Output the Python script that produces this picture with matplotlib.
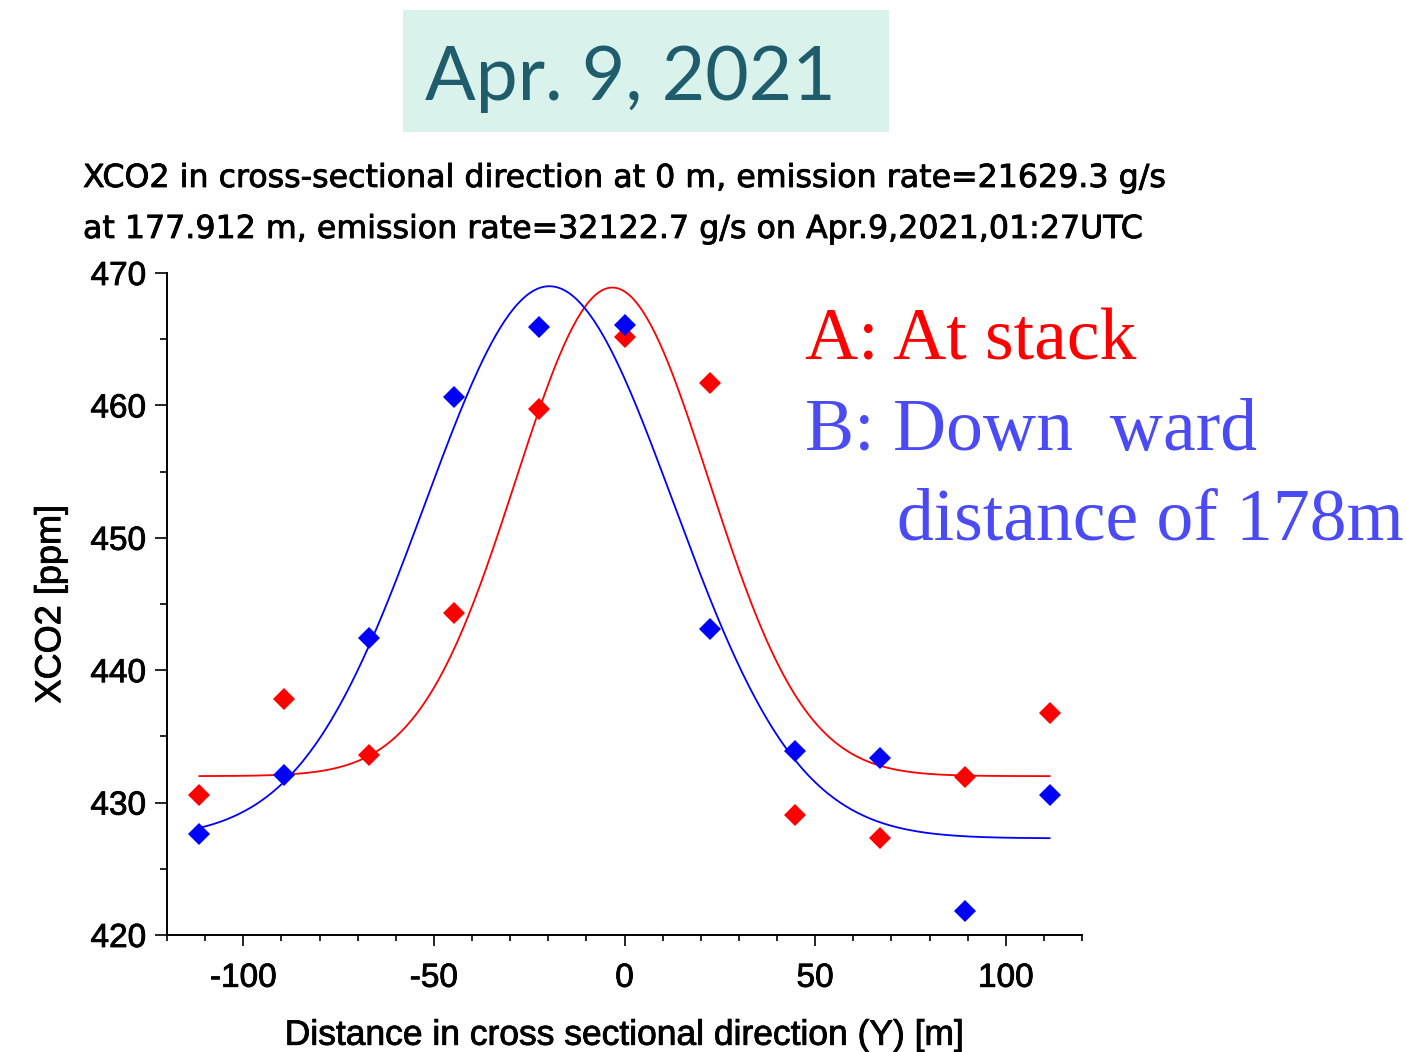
import numpy as np
import matplotlib
matplotlib.use("Agg")
import matplotlib.pyplot as plt
import matplotlib.patheffects as pe
from matplotlib.ticker import MultipleLocator
from matplotlib.patches import Rectangle

plt.rcParams["axes.unicode_minus"] = False

# ---- data ----
y_pos = [-111.5, -89.2, -66.9, -44.6, -22.3, 0.0, 22.3, 44.6, 66.9, 89.2, 111.5]
xco2_stack = [430.6, 437.8, 433.6, 444.3, 459.7, 465.2, 461.7, 429.1, 427.3, 431.9, 436.8]
xco2_down = [427.6, 432.1, 442.4, 460.6, 465.9, 466.1, 443.1, 433.9, 433.4, 421.8, 430.6]

# Gaussian fit parameters: baseline, amplitude, centre, sigma
fit_stack = [432.0, 36.9, -3.2, 25.3]
fit_down = [427.3, 41.7, -19.7, 32.6]

title_lines = ["XCO2 in cross-sectional direction at 0 m, emission rate=21629.3 g/s",
               "at 177.912 m, emission rate=32122.7 g/s on Apr.9,2021,01:27UTC"]
date_text = "Apr. 9, 2021"

W, H = 1406, 1052
fig = plt.figure(figsize=(W / 100, H / 100), dpi=100)

def fx(px):
    return px / W

def fy(py):
    return 1 - py / H

heavy = [pe.withStroke(linewidth=0.6, foreground="black")]

ax = fig.add_axes([fx(167), fy(935), fx(1082) - fx(167), fy(273) - fy(935)])

xs = np.linspace(min(y_pos), max(y_pos), 400)

def gauss(p, x):
    b, a, c, s = p
    return b + a * np.exp(-(x - c) ** 2 / (2 * s ** 2))

ax.plot(xs, gauss(fit_stack, xs), color="#ff0000", lw=1.3, zorder=2)
ax.plot(xs, gauss(fit_down, xs), color="#0000ff", lw=1.3, zorder=2)
ax.plot(y_pos, xco2_stack, "D", color="#ff0000", ms=11, mew=0, zorder=3)
ax.plot(y_pos, xco2_down, "D", color="#0000ff", ms=11, mew=0, zorder=3)

ax.set_xlim(-120, 120)
ax.set_ylim(420, 470)
ax.xaxis.set_major_locator(MultipleLocator(50))
ax.xaxis.set_minor_locator(MultipleLocator(10))
ax.yaxis.set_major_locator(MultipleLocator(10))
ax.yaxis.set_minor_locator(MultipleLocator(5))
for s in ["top", "right"]:
    ax.spines[s].set_visible(False)
for s in ["left", "bottom"]:
    ax.spines[s].set_linewidth(1.4)
ax.tick_params(axis="y", which="major", length=9, width=1.2, pad=6, labelsize=24)
ax.tick_params(axis="y", which="minor", length=5, width=1.2)
ax.tick_params(axis="x", which="major", length=8, width=1.2, pad=12, labelsize=24)
ax.tick_params(axis="x", which="minor", length=4, width=1.2)
for lab in ax.get_xticklabels() + ax.get_yticklabels():
    lab.set_family("Liberation Sans")
    lab.set_path_effects(heavy)

ax.set_xlabel("Distance in cross sectional direction (Y) [m]", fontsize=25.5,
              family="Liberation Sans", labelpad=18, path_effects=heavy)
ax.set_ylabel("XCO2 [ppm]", fontsize=26, family="Liberation Sans", labelpad=16,
              path_effects=heavy)

# chart title lines
fig.text(fx(83), fy(187), title_lines[0], fontsize=22.8, family="DejaVu Sans",
         ha="left", va="baseline", path_effects=heavy)
fig.text(fx(83), fy(238), title_lines[1], fontsize=22.8, family="DejaVu Sans",
         ha="left", va="baseline", path_effects=heavy)

# date box
fig.patches.append(Rectangle((fx(403), fy(132)), fx(889) - fx(403), fy(10) - fy(132),
                             transform=fig.transFigure, facecolor="#daf2ec",
                             edgecolor="none", zorder=0))
fig.text(fx(425), fy(100), date_text, fontsize=54, family="Lato", color="#1f5d6d",
         ha="left", va="baseline")

# annotations
fig.text(fx(805), fy(360), "A: At stack", fontsize=53, family="Liberation Serif",
         color="#ff0000", ha="left", va="baseline")
fig.text(fx(805), fy(450), "B: Down  ward", fontsize=53, family="Liberation Serif",
         color="#4b4bf5", ha="left", va="baseline")
fig.text(fx(897), fy(540), "distance of 178m", fontsize=53, family="Liberation Serif",
         color="#4b4bf5", ha="left", va="baseline")

fig.savefig("out.png", dpi=100)
